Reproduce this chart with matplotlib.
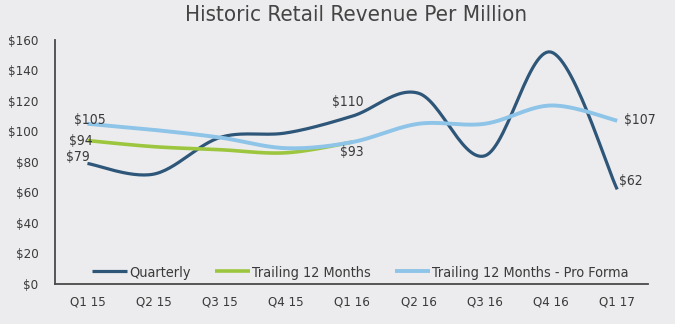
import numpy as np
import matplotlib.pyplot as plt
from matplotlib.font_manager import FontProperties

quarters = ["Q1 15", "Q2 15", "Q3 15", "Q4 15", "Q1 16", "Q2 16", "Q3 16", "Q4 16", "Q1 17"]
quarterly = [79, 72, 96, 99, 110, 125, 84, 152, 62]
trailing12 = [94, 90, 88, 86, 93]
pro_forma = [105, 101, 96, 89, 93, 105, 105, 117, 107]

bg = "#ECECEE"
c_q = "#2E5678"
c_t = "#9DC63F"
c_p = "#8EC4E8"
txt = "#3A3A3A"


def smooth(y, n=30):
    # Catmull-Rom style bezier through every point, like a spreadsheet smoothed line
    y = np.asarray(y, dtype=float)
    x = np.arange(len(y), dtype=float)
    px = np.concatenate([[x[0]], x, [x[-1]]])
    py = np.concatenate([[y[0]], y, [y[-1]]])
    xs, ys = [], []
    t = np.linspace(0, 1, n)
    for i in range(1, len(px) - 2):
        p0 = np.array([x[i - 1], y[i - 1]])
        p3 = np.array([x[i], y[i]])
        c1 = p0 + (np.array([px[i + 1], py[i + 1]]) - np.array([px[i - 1], py[i - 1]])) / 6
        c2 = p3 - (np.array([px[i + 2], py[i + 2]]) - np.array([px[i], py[i]])) / 6
        b = ((1 - t) ** 3)[:, None] * p0 + (3 * (1 - t) ** 2 * t)[:, None] * c1 \
            + (3 * (1 - t) * t ** 2)[:, None] * c2 + (t ** 3)[:, None] * p3
        xs.extend(b[:, 0])
        ys.extend(b[:, 1])
    return np.array(xs), np.array(ys)


plt.rcParams["font.family"] = ["DejaVu Sans"]
cond = {"fontstretch": "condensed"}

fig = plt.figure(figsize=(6.75, 3.24), dpi=100, facecolor=bg)
ax = fig.add_axes([0.0815, 0.1235, 0.879, 0.7535], facecolor=bg)

for vals, col, lw, lab in [(quarterly, c_q, 2.3, "Quarterly"),
                           (trailing12, c_t, 2.6, "Trailing 12 Months"),
                           (pro_forma, c_p, 2.8, "Trailing 12 Months - Pro Forma")]:
    sx, sy = smooth(vals)
    ax.plot(sx, sy, color=col, lw=lw, solid_capstyle="butt", label=lab)

ax.set_xlim(-0.49, 8.47)
ax.set_ylim(0, 160)
ax.set_yticks(range(0, 161, 20))
ax.set_yticklabels(["${}".format(v) for v in range(0, 161, 20)], color=txt, fontsize=9.5, **cond)
ax.set_xticks(range(len(quarters)))
ax.set_xticklabels(quarters, color=txt, fontsize=9.5, **cond)
ax.tick_params(axis="x", length=0, pad=8)
ax.tick_params(axis="y", length=0, pad=12)
for s in ["top", "right"]:
    ax.spines[s].set_visible(False)
for s in ["left", "bottom"]:
    ax.spines[s].set_color("#4A4A4A")
    ax.spines[s].set_linewidth(1.3)

fig.text(0.528, 0.953, "Historic Retail Revenue Per Million", ha="center", va="center",
         fontsize=16, color="#444444", **cond)

lab_kw = dict(fontsize=10, color=txt, ha="center", va="center", textcoords="offset points", **cond)
ax.annotate("$105", (0, pro_forma[0]), xytext=(2, 3), **lab_kw)
ax.annotate("$94", (0, trailing12[0]), xytext=(-4.5, 0), **lab_kw)
ax.annotate("$79", (0, quarterly[0]), xytext=(-7, 4.7), **lab_kw)
ax.annotate("$110", (4, quarterly[4]), xytext=(-3, 10), **lab_kw)
ax.annotate("$93", (4, trailing12[4]), xytext=(-0.7, -7), **lab_kw)
ax.annotate("$107", (8, pro_forma[8]), xytext=(16, 0.7), **lab_kw)
ax.annotate("$62", (8, quarterly[8]), xytext=(10, 6), **lab_kw)

leg = ax.legend(loc="lower center", bbox_to_anchor=(0.515, -0.035), ncol=3, frameon=False,
                handlelength=2.4, handletextpad=0.15, columnspacing=1.7,
                prop=FontProperties(size=10.4, stretch="condensed"))
for t in leg.get_texts():
    t.set_color(txt)

fig.savefig("out.png", dpi=100, facecolor=bg)
